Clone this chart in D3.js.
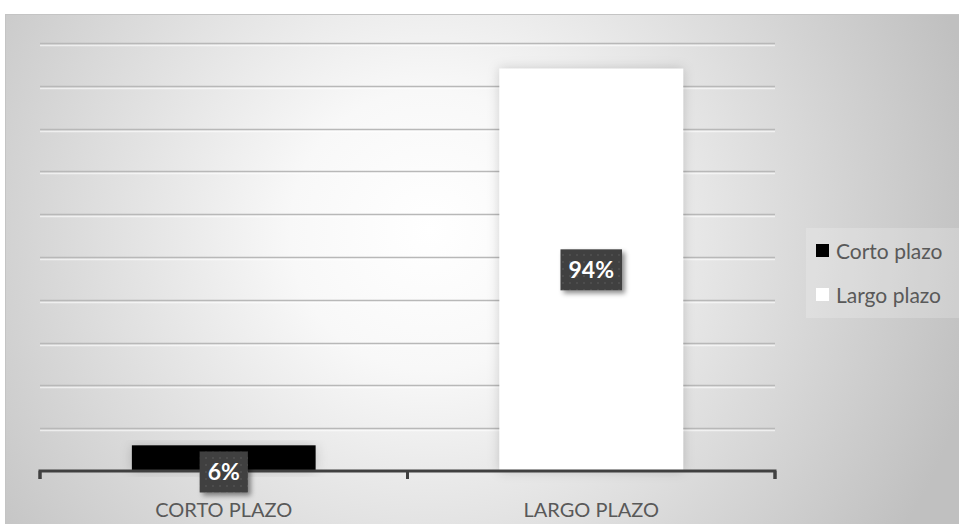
<!DOCTYPE html>
<html><head><meta charset="utf-8">
<script src="https://cdn.jsdelivr.net/npm/d3@7"></script>
<style>html,body{margin:0;padding:0;background:#fff;}svg{display:block;}</style>
</head><body>
<script>
const categories = ["CORTO PLAZO", "LARGO PLAZO"];
const seriesNames = ["Corto plazo", "Largo plazo"];
const values = [0.06, 0.94];
const labels = ["6%", "94%"];
const barColors = ["#000000", "#ffffff"];
const yTicks = [0,0.1,0.2,0.3,0.4,0.5,0.6,0.7,0.8,0.9,1.0];

const W = 959, H = 524;
const svg = d3.select("body").append("svg").attr("width", W).attr("height", H);
const defs = svg.append("defs");

const rg = defs.append("radialGradient").attr("id","bg")
  .attr("gradientUnits","userSpaceOnUse").attr("cx",430).attr("cy",230).attr("r",560);
rg.append("stop").attr("offset","0").attr("stop-color","#ffffff");
rg.append("stop").attr("offset","0.25").attr("stop-color","#f8f8f8");
rg.append("stop").attr("offset","1").attr("stop-color","#c0c0c0");

const glow = defs.append("filter").attr("id","glow").attr("x","-20%").attr("y","-20%").attr("width","140%").attr("height","140%");
glow.append("feGaussianBlur").attr("in","SourceAlpha").attr("stdDeviation",6).attr("result","b");
glow.append("feFlood").attr("flood-color","#000").attr("flood-opacity",0.18);
glow.append("feComposite").attr("in2","b").attr("operator","in").attr("result","s");
const gm = glow.append("feMerge"); gm.append("feMergeNode").attr("in","s"); gm.append("feMergeNode").attr("in","SourceGraphic");

const sh = defs.append("filter").attr("id","lblsh").attr("x","-30%").attr("y","-30%").attr("width","170%").attr("height","170%");
sh.append("feGaussianBlur").attr("in","SourceAlpha").attr("stdDeviation",2.5).attr("result","b");
sh.append("feOffset").attr("in","b").attr("dx",3).attr("dy",3).attr("result","o");
sh.append("feFlood").attr("flood-color","#000").attr("flood-opacity",0.45);
sh.append("feComposite").attr("in2","o").attr("operator","in").attr("result","s");
const sm = sh.append("feMerge"); sm.append("feMergeNode").attr("in","s"); sm.append("feMergeNode").attr("in","SourceGraphic");

const gridSh = defs.append("filter").attr("id","gsh").attr("x","0").attr("y","-200%").attr("width","100%").attr("height","500%");
gridSh.append("feOffset").attr("in","SourceGraphic").attr("dx",0).attr("dy",1.5).attr("result","o");
gridSh.append("feColorMatrix").attr("in","o").attr("type","matrix").attr("values","0 0 0 0 1  0 0 0 0 1  0 0 0 0 1  0 0 0 0.6 0").attr("result","w");
const gsm = gridSh.append("feMerge"); gsm.append("feMergeNode").attr("in","w"); gsm.append("feMergeNode").attr("in","SourceGraphic");

const pat = defs.append("pattern").attr("id","dots").attr("patternUnits","userSpaceOnUse").attr("width",7).attr("height",7);
pat.append("rect").attr("width",7).attr("height",7).attr("fill","#404040");
pat.append("rect").attr("x",2).attr("y",2).attr("width",2).attr("height",2).attr("fill","#4d4d4d");

// background
svg.append("rect").attr("x",5.5).attr("y",14.5).attr("width",W-5).attr("height",H-14)
  .attr("fill","url(#bg)").attr("stroke","#c4c4c4").attr("stroke-width",1);

const x0 = 40, x1 = 775, yBase = 471, yTop = 43;
const x = d3.scaleBand().domain(categories).range([x0, x1]).paddingInner(0.5).paddingOuter(0.25);
const band = d3.scaleBand().domain(categories).range([x0, x1]);
const y = d3.scaleLinear().domain([0, 1]).range([yBase, yTop]);

// gridlines
svg.append("g").attr("filter","url(#gsh)").selectAll("line").data(yTicks.slice(1)).join("line")
  .attr("x1",x0).attr("x2",x1).attr("y1",d=>Math.round(y(d))+0.5).attr("y2",d=>Math.round(y(d))+0.5)
  .attr("stroke","#b8b8b8").attr("stroke-width",1.5);

// bars
svg.append("g").selectAll("rect").data(values).join("rect")
  .attr("x",(d,i)=>x(categories[i])).attr("width",x.bandwidth())
  .attr("y",d=>y(d)).attr("height",d=>yBase-y(d))
  .attr("fill",(d,i)=>barColors[i]).attr("filter","url(#glow)");

// axis
const axis = d3.axisBottom(band).tickSize(7).tickSizeOuter(7).tickFormat(d=>d).tickPadding(25);
const ag = svg.append("g").attr("transform",`translate(0,${yBase})`).call(axis);
ag.select(".domain").attr("stroke","#404040").attr("stroke-width",3).attr("d",`M${x0},8V0H${x1}V8`);
ag.selectAll(".tick line").remove();
const tickX = [x0, (x0+x1)/2, x1];
ag.selectAll("line.tk").data(tickX).join("line").attr("class","tk")
  .attr("x1",d=>d).attr("x2",d=>d).attr("y1",0).attr("y2",8).attr("stroke","#404040").attr("stroke-width",3);
ag.selectAll(".tick text").attr("font-family","Lato, 'Open Sans', sans-serif").attr("font-size",20)
  .attr("fill","#595959");

// data labels
const lg = svg.append("g");
values.forEach((v,i)=>{
  const cx = x(categories[i]) + x.bandwidth()/2;
  const boxH = 41;
  let cy = (y(v)+yBase)/2;
  if (yBase - y(v) < boxH) cy = yBase + 1;
  const t = lg.append("text").attr("x",cx).attr("y",cy).attr("text-anchor","middle").attr("dy","0.36em")
    .attr("font-family","Lato, 'Open Sans', sans-serif").attr("font-weight","bold").attr("font-size",23)
    .attr("fill","#ffffff").text(labels[i]);
  const bw = t.node().getComputedTextLength() + 16;
  lg.insert("rect","text").attr("x",cx-bw/2).attr("y",cy-boxH/2).attr("width",bw).attr("height",boxH)
    .attr("fill","url(#dots)").attr("filter","url(#lblsh)");
});

// legend
svg.append("rect").attr("x",806).attr("y",228).attr("width",153).attr("height",90)
  .attr("fill","#ffffff").attr("opacity",0.2);
const leg = svg.append("g").selectAll("g").data(seriesNames).join("g")
  .attr("transform",(d,i)=>`translate(816,${244 + i*44})`);
leg.append("rect").attr("width",13).attr("height",13).attr("fill",(d,i)=>barColors[i]);
leg.append("text").attr("x",20).attr("y",7).attr("dy","0.36em")
  .attr("font-family","Lato, 'Open Sans', sans-serif").attr("font-size",21).attr("fill","#595959").text(d=>d);
</script>
</body></html>
